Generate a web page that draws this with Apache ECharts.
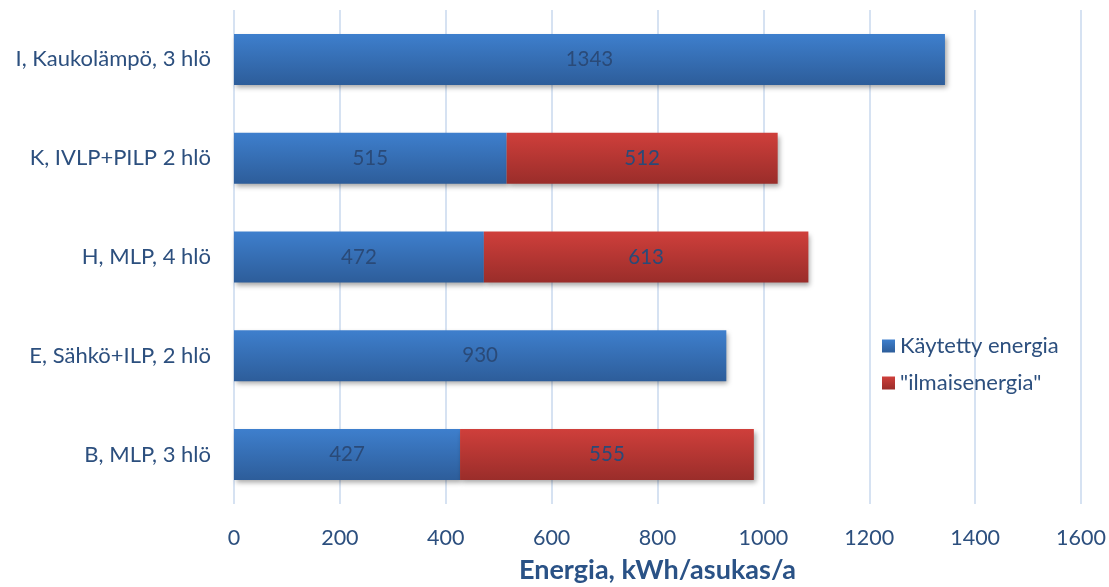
<!DOCTYPE html>
<html>
<head>
<meta charset="utf-8">
<script src="https://cdn.jsdelivr.net/npm/echarts@6/dist/echarts.min.js"></script>
<style>
html,body{margin:0;padding:0;background:#fff;}
#chart{width:1109px;height:587px;}
</style>
</head>
<body>
<div id="chart"></div>
<script>
// Households, listed bottom to top
const categories = ['B, MLP, 3 hlö', 'E, Sähkö+ILP, 2 hlö', 'H, MLP, 4 hlö', 'K, IVLP+PILP 2 hlö', 'I, Kaukolämpö, 3 hlö'];
const usedEnergy = [427, 930, 472, 515, 1343];
const freeEnergy = [555, null, 613, 512, null];
const seriesNames = ['Käytetty energia', '"ilmaisenergia"'];
const axisTitle = 'Energia, kWh/asukas/a';

const textColor = '#2c4f7e';
const fontFamily = 'Lato, "Open Sans", sans-serif';

function grad(top, bottom) {
  return new echarts.graphic.LinearGradient(0, 0, 0, 1, [
    { offset: 0, color: top },
    { offset: 1, color: bottom }
  ]);
}

const barStyle = (top, bottom) => ({
  color: grad(top, bottom),
  shadowColor: 'rgba(0,0,0,0.35)',
  shadowBlur: 5,
  shadowOffsetX: 2,
  shadowOffsetY: 3
});

const labelStyle = {
  show: true,
  position: 'inside',
  color: '#2a4a78',
  fontSize: 20.5,
  fontFamily: fontFamily
};

const chart = echarts.init(document.getElementById('chart'));
chart.setOption({
  animation: false,
  textStyle: { fontFamily: fontFamily },
  grid: {
    left: 234, right: 28, top: 10, bottom: 83,
    containLabel: false,
    outerBoundsMode: 'none'
  },
  legend: {
    orient: 'vertical',
    left: 877,
    top: 330,
    itemWidth: 13,
    itemHeight: 13,
    itemGap: 15,
    icon: 'rect',
    textStyle: { color: textColor, fontSize: 22, fontFamily: fontFamily },
    data: seriesNames
  },
  xAxis: {
    type: 'value',
    min: 0,
    max: 1600,
    interval: 200,
    axisLine: { show: false },
    axisTick: { show: false },
    splitLine: { lineStyle: { color: '#d6e2f2', width: 2 } },
    axisLabel: {
      color: textColor, fontSize: 21.5, margin: 23, fontFamily: fontFamily,
      formatter: v => String(v)
    },
    name: axisTitle,
    nameLocation: 'middle',
    nameGap: 53,
    nameTextStyle: { color: '#2a5286', fontSize: 27, fontWeight: 'bold', fontFamily: fontFamily }
  },
  yAxis: {
    type: 'category',
    data: categories,
    axisLine: { show: false },
    axisTick: { show: false },
    axisLabel: { color: textColor, fontSize: 22, margin: 23, fontFamily: fontFamily }
  },
  series: [
    {
      name: seriesNames[0],
      type: 'bar',
      stack: 'total',
      barWidth: 51,
      data: usedEnergy,
      itemStyle: barStyle('#3e7fcd', '#2d5d9a'),
      label: labelStyle
    },
    {
      name: seriesNames[1],
      type: 'bar',
      stack: 'total',
      barWidth: 51,
      data: freeEnergy,
      itemStyle: barStyle('#cf3f3b', '#9a2d2a'),
      label: labelStyle
    }
  ]
});
</script>
</body>
</html>
